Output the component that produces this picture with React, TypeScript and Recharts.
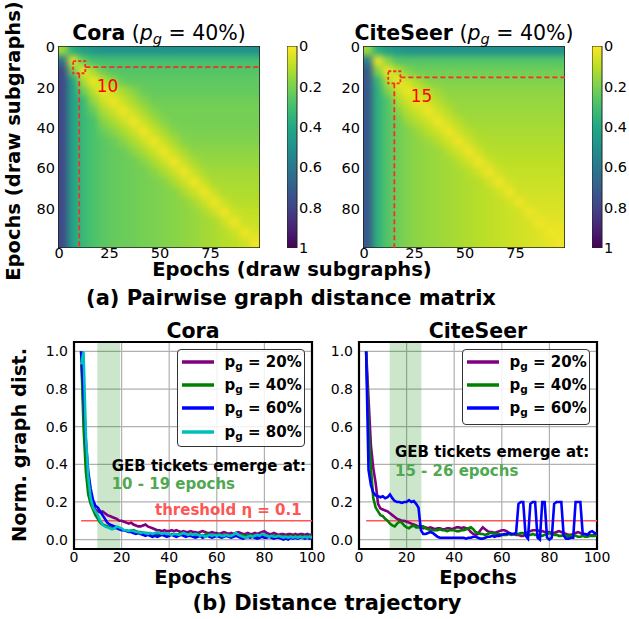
import React from 'react';
import {
  ScatterChart, Scatter, XAxis, YAxis, ZAxis, BarChart, Bar, LineChart, Line,
  CartesianGrid, ReferenceLine, ReferenceArea, Legend,
} from 'recharts';

const FONT = '"DejaVu Sans", sans-serif';

// ---------- (a) pairwise graph distance matrices (5-epoch blocks) ----------
const BLOCK_STARTS = [0, 5, 10, 15, 20, 25, 30, 35, 40, 45, 50, 55, 60, 65, 70, 75, 80, 85, 90, 95];
const BLOCK_SIZE = 5;

const CORA_MATRIX = [
  [.15, .38, .44, .47, .50, .50, .50, .50, .50, .50, .50, .50, .50, .50, .50, .50, .50, .50, .50, .50],
  [.62, .03, .23, .30, .30, .30, .30, .30, .30, .30, .30, .30, .30, .30, .30, .30, .30, .30, .30, .30],
  [.78, .23, .02, .13, .23, .27, .27, .27, .27, .27, .27, .27, .27, .27, .27, .27, .27, .27, .27, .27],
  [.78, .42, .13, .02, .10, .17, .24, .25, .25, .25, .25, .25, .25, .25, .25, .25, .25, .25, .25, .25],
  [.78, .42, .23, .10, .02, .08, .13, .18, .23, .24, .24, .24, .24, .24, .24, .24, .24, .24, .24, .24],
  [.78, .42, .33, .17, .08, .02, .08, .13, .18, .22, .22, .22, .22, .22, .22, .22, .22, .22, .22, .22],
  [.78, .42, .33, .24, .13, .08, .02, .08, .13, .18, .21, .21, .21, .21, .21, .21, .21, .21, .21, .21],
  [.78, .42, .33, .29, .18, .13, .08, .02, .08, .13, .18, .21, .21, .21, .21, .21, .21, .21, .21, .21],
  [.78, .42, .33, .29, .23, .18, .13, .08, .02, .08, .13, .18, .20, .20, .20, .20, .20, .20, .20, .20],
  [.78, .42, .33, .29, .26, .23, .18, .13, .08, .02, .08, .13, .18, .19, .19, .19, .19, .19, .19, .19],
  [.78, .42, .33, .29, .26, .24, .23, .18, .13, .08, .02, .08, .13, .17, .17, .17, .17, .17, .17, .17],
  [.78, .42, .33, .29, .26, .24, .23, .22, .18, .13, .08, .02, .08, .13, .16, .16, .16, .16, .16, .16],
  [.78, .42, .33, .29, .26, .24, .23, .22, .21, .18, .13, .08, .02, .08, .13, .14, .14, .14, .14, .14],
  [.78, .42, .33, .29, .26, .24, .23, .22, .21, .20, .18, .13, .08, .02, .08, .13, .13, .13, .13, .13],
  [.78, .42, .33, .29, .26, .24, .23, .22, .21, .20, .19, .18, .13, .08, .02, .08, .12, .12, .12, .12],
  [.78, .42, .33, .29, .26, .24, .23, .22, .21, .20, .19, .18, .17, .13, .08, .02, .08, .11, .11, .11],
  [.78, .42, .33, .29, .26, .24, .23, .22, .21, .20, .19, .18, .17, .16, .13, .08, .02, .08, .09, .09],
  [.78, .42, .33, .29, .26, .24, .23, .22, .21, .20, .19, .18, .17, .16, .14, .13, .08, .02, .08, .08],
  [.78, .42, .33, .29, .26, .24, .23, .22, .21, .20, .19, .18, .17, .16, .14, .13, .11, .08, .02, .06],
  [.78, .42, .33, .29, .26, .24, .23, .22, .21, .20, .19, .18, .17, .16, .14, .13, .11, .10, .08, .02],
];

const CITESEER_MATRIX = [
  [.15, .38, .44, .47, .50, .50, .50, .50, .50, .50, .50, .50, .50, .50, .50, .50, .50, .50, .50, .50],
  [.58, .02, .18, .27, .27, .27, .27, .27, .27, .27, .27, .27, .27, .27, .27, .27, .27, .27, .27, .27],
  [.72, .18, .02, .11, .19, .22, .22, .22, .22, .22, .22, .22, .22, .22, .22, .22, .22, .22, .22, .22],
  [.72, .33, .11, .02, .08, .13, .18, .19, .19, .19, .19, .19, .19, .19, .19, .19, .19, .19, .19, .19],
  [.72, .36, .19, .08, .02, .07, .11, .15, .17, .17, .17, .17, .17, .17, .17, .17, .17, .17, .17, .17],
  [.72, .36, .27, .13, .07, .02, .07, .11, .15, .16, .16, .16, .16, .16, .16, .16, .16, .16, .16, .16],
  [.72, .36, .27, .18, .11, .07, .02, .07, .11, .15, .15, .15, .15, .15, .15, .15, .15, .15, .15, .15],
  [.72, .36, .27, .22, .15, .11, .07, .02, .07, .11, .14, .14, .14, .14, .14, .14, .14, .14, .14, .14],
  [.72, .36, .27, .22, .19, .15, .11, .07, .02, .07, .11, .13, .13, .13, .13, .13, .13, .13, .13, .13],
  [.72, .36, .27, .22, .19, .17, .15, .11, .07, .02, .07, .11, .12, .12, .12, .12, .12, .12, .12, .12],
  [.72, .36, .27, .22, .19, .17, .16, .15, .11, .07, .02, .07, .11, .11, .11, .11, .11, .11, .11, .11],
  [.72, .36, .27, .22, .19, .17, .16, .15, .14, .11, .07, .02, .07, .10, .10, .10, .10, .10, .10, .10],
  [.72, .36, .27, .22, .19, .17, .16, .15, .14, .13, .11, .07, .02, .07, .09, .09, .09, .09, .09, .09],
  [.72, .36, .27, .22, .19, .17, .16, .15, .14, .13, .12, .11, .07, .02, .07, .08, .08, .08, .08, .08],
  [.72, .36, .27, .22, .19, .17, .16, .15, .14, .13, .12, .11, .10, .07, .02, .07, .07, .07, .07, .07],
  [.72, .36, .27, .22, .19, .17, .16, .15, .14, .13, .12, .11, .10, .09, .07, .02, .06, .06, .06, .06],
  [.72, .36, .27, .22, .19, .17, .16, .15, .14, .13, .12, .11, .10, .09, .08, .07, .02, .05, .05, .05],
  [.72, .36, .27, .22, .19, .17, .16, .15, .14, .13, .12, .11, .10, .09, .08, .07, .06, .02, .04, .04],
  [.72, .36, .27, .22, .19, .17, .16, .15, .14, .13, .12, .11, .10, .09, .08, .07, .06, .05, .02, .03],
  [.72, .36, .27, .22, .19, .17, .16, .15, .14, .13, .12, .11, .10, .09, .08, .07, .06, .05, .04, .02],
];

const HEATMAP_X_TICKS = [0, 25, 50, 75];
const HEATMAP_Y_TICKS = [0, 20, 40, 60, 80];
const HEATMAP_EDGE = [-0.5, 99.5];
const COLORBAR_TICKS = [0, 0.2, 0.4, 0.6, 0.8, 1];
const CORA_MARK = 10;
const CITESEER_MARK = 15;
const MARK_HALF = 3;

// ---------- (b) distance trajectories ----------
const EPOCHS = [
  3, 4, 5, 6, 7, 8, 9, 10, 11, 12,
  13, 14, 15, 16, 17, 18, 19, 20, 21, 22,
  23, 24, 25, 26, 27, 28, 29, 30, 31, 32,
  33, 34, 35, 36, 37, 38, 39, 40, 41, 42,
  43, 44, 45, 46, 47, 48, 49, 50, 51, 52,
  53, 54, 55, 56, 57, 58, 59, 60, 61, 62,
  63, 64, 65, 66, 67, 68, 69, 70, 71, 72,
  73, 74, 75, 76, 77, 78, 79, 80, 81, 82,
  83, 84, 85, 86, 87, 88, 89, 90, 91, 92,
  93, 94, 95, 96, 97, 98, 99, 100,
];

const CORA_P20 = [
  1.0, 0.70, 0.45, 0.30, 0.22, 0.18, 0.16, 0.15, 0.145, 0.15,
  0.14, 0.13, 0.125, 0.12, 0.115, 0.11, 0.10, 0.10, 0.095, 0.09,
  0.085, 0.09, 0.08, 0.075, 0.07, 0.07, 0.075, 0.08, 0.07, 0.065,
  0.06, 0.055, 0.05, 0.05, 0.045, 0.05, 0.045, 0.045, 0.05, 0.045,
  0.05, 0.045, 0.04, 0.045, 0.04, 0.04, 0.045, 0.04, 0.04, 0.035,
  0.04, 0.045, 0.04, 0.035, 0.035, 0.04, 0.035, 0.035, 0.03, 0.035,
  0.04, 0.035, 0.03, 0.035, 0.03, 0.035, 0.04, 0.035, 0.03, 0.03,
  0.035, 0.03, 0.03, 0.035, 0.03, 0.035, 0.04, 0.045, 0.035, 0.03,
  0.03, 0.035, 0.03, 0.025, 0.03, 0.03, 0.025, 0.03, 0.03, 0.025,
  0.03, 0.025, 0.03, 0.03, 0.025, 0.03, 0.025, 0.025,
];
const CORA_P40 = [
  1.0, 0.60, 0.36, 0.24, 0.19, 0.16, 0.13, 0.11, 0.09, 0.08,
  0.075, 0.07, 0.065, 0.06, 0.06, 0.065, 0.06, 0.055, 0.05, 0.05,
  0.045, 0.045, 0.05, 0.045, 0.04, 0.04, 0.035, 0.035, 0.035, 0.03,
  0.03, 0.025, 0.03, 0.03, 0.025, 0.03, 0.03, 0.025, 0.03, 0.03,
  0.025, 0.03, 0.035, 0.03, 0.025, 0.025, 0.03, 0.025, 0.025, 0.03,
  0.025, 0.02, 0.025, 0.03, 0.025, 0.025, 0.02, 0.025, 0.025, 0.02,
  0.025, 0.02, 0.025, 0.02, 0.02, 0.025, 0.02, 0.02, 0.025, 0.02,
  0.02, 0.025, 0.02, 0.02, 0.015, 0.02, 0.02, 0.025, 0.02, 0.02,
  0.015, 0.02, 0.02, 0.015, 0.02, 0.015, 0.015, 0.02, 0.015, 0.015,
  0.02, 0.015, 0.015, 0.02, 0.015, 0.015, 0.02, 0.015,
];
const CORA_P60 = [
  1.0, 0.78, 0.52, 0.36, 0.27, 0.21, 0.18, 0.17, 0.15, 0.13,
  0.11, 0.09, 0.08, 0.075, 0.07, 0.06, 0.055, 0.05, 0.05, 0.045,
  0.04, 0.04, 0.035, 0.03, 0.035, 0.03, 0.025, 0.02, 0.025, 0.02,
  0.015, 0.02, 0.015, 0.02, 0.025, 0.02, 0.015, 0.02, 0.025, 0.02,
  0.015, 0.02, 0.025, 0.02, 0.015, 0.02, 0.02, 0.015, 0.01, 0.015,
  0.02, 0.01, 0.015, 0.02, 0.015, 0.01, 0.015, 0.02, 0.015, 0.01,
  0.015, 0.02, 0.015, 0.01, 0.015, 0.02, 0.015, 0.01, 0.005, 0.01,
  0.015, 0.01, 0.015, 0.01, 0.005, 0.01, 0.015, 0.01, 0.01, 0.015,
  0.01, 0.005, 0.01, 0.01, 0.005, 0.0, 0.005, 0.0, 0.01, 0.005,
  0.01, 0.005, 0.01, 0.01, 0.005, 0.01, 0.005, 0.01,
];
const CORA_P80 = [
  0.93, 1.0, 0.55, 0.33, 0.22, 0.17, 0.15, 0.13, 0.10, 0.08,
  0.07, 0.065, 0.06, 0.055, 0.06, 0.07, 0.065, 0.06, 0.05, 0.05,
  0.045, 0.05, 0.045, 0.04, 0.04, 0.035, 0.04, 0.035, 0.03, 0.035,
  0.03, 0.035, 0.04, 0.035, 0.03, 0.035, 0.03, 0.03, 0.025, 0.03,
  0.03, 0.025, 0.03, 0.035, 0.03, 0.025, 0.03, 0.025, 0.03, 0.025,
  0.02, 0.025, 0.015, 0.02, 0.025, 0.02, 0.025, 0.02, 0.025, 0.02,
  0.02, 0.025, 0.02, 0.02, 0.025, 0.035, 0.025, 0.02, 0.015, 0.01,
  0.015, 0.02, 0.015, 0.02, 0.025, 0.02, 0.03, 0.025, 0.02, 0.015,
  0.02, 0.015, 0.015, 0.02, 0.015, 0.01, 0.015, 0.01, 0.015, 0.01,
  0.015, 0.01, 0.015, 0.01, 0.015, 0.01, 0.015, 0.01,
];

const CITESEER_P20 = [
  1.0, 0.75, 0.50, 0.38, 0.30, 0.19, 0.165, 0.16, 0.155, 0.15,
  0.14, 0.13, 0.12, 0.11, 0.105, 0.10, 0.10, 0.095, 0.09, 0.085,
  0.08, 0.075, 0.07, 0.065, 0.06, 0.065, 0.06, 0.065, 0.06, 0.055,
  0.06, 0.06, 0.055, 0.055, 0.06, 0.06, 0.055, 0.06, 0.065, 0.065,
  0.06, 0.065, 0.06, 0.055, 0.04, 0.03, 0.025, 0.03, 0.05, 0.065,
  0.055, 0.045, 0.04, 0.04, 0.035, 0.04, 0.045, 0.05, 0.05, 0.045,
  0.035, 0.03, 0.03, 0.025, 0.025, 0.02, 0.02, 0.03, 0.04, 0.045,
  0.05, 0.05, 0.05, 0.045, 0.045, 0.04, 0.04, 0.04, 0.035, 0.035,
  0.04, 0.045, 0.04, 0.035, 0.03, 0.025, 0.025, 0.03, 0.035, 0.04,
  0.035, 0.03, 0.03, 0.025, 0.025, 0.02, 0.025, 0.03,
];
const CITESEER_P40 = [
  1.0, 0.60, 0.38, 0.22, 0.17, 0.15, 0.13, 0.125, 0.11, 0.10,
  0.085, 0.075, 0.07, 0.085, 0.095, 0.09, 0.075, 0.065, 0.06, 0.07,
  0.075, 0.065, 0.065, 0.07, 0.07, 0.06, 0.055, 0.05, 0.05, 0.05,
  0.05, 0.055, 0.05, 0.05, 0.045, 0.05, 0.05, 0.05, 0.045, 0.045,
  0.05, 0.05, 0.055, 0.06, 0.065, 0.055, 0.04, 0.035, 0.03, 0.03,
  0.025, 0.03, 0.035, 0.035, 0.03, 0.03, 0.03, 0.025, 0.025, 0.025,
  0.03, 0.025, 0.03, 0.03, 0.03, 0.035, 0.035, 0.03, 0.025, 0.025,
  0.03, 0.025, 0.025, 0.02, 0.02, 0.025, 0.03, 0.035, 0.03, 0.025,
  0.025, 0.02, 0.02, 0.025, 0.02, 0.02, 0.02, 0.025, 0.02, 0.015,
  0.015, 0.02, 0.015, 0.015, 0.02, 0.02, 0.02, 0.025,
];
const CITESEER_P60 = [
  1.0, 0.37, 0.29, 0.25, 0.235, 0.23, 0.225, 0.23, 0.22, 0.225,
  0.24, 0.22, 0.205, 0.20, 0.20, 0.195, 0.20, 0.20, 0.21, 0.20,
  0.205, 0.19, 0.17, 0.05, 0.03, 0.03, 0.035, 0.04, 0.035, 0.025,
  0.015, 0.01, 0.01, 0.01, 0.01, 0.01, 0.01, 0.01, 0.01, 0.01,
  0.01, 0.01, 0.005, 0.01, 0.01, 0.015, 0.015, 0.01, 0.005, 0.005,
  0.01, 0.015, 0.015, 0.02, 0.015, 0.02, 0.02, 0.025, 0.03, 0.03,
  0.035, 0.03, 0.03, 0.035, 0.19, 0.20, 0.20, 0.02, 0.005, 0.19,
  0.20, 0.20, 0.01, 0.0, 0.20, 0.20, 0.01, 0.0, 0.01, 0.19,
  0.20, 0.20, 0.20, 0.02, 0.005, 0.005, 0.01, 0.01, 0.20, 0.20,
  0.20, 0.03, 0.03, 0.025, 0.04, 0.045, 0.035, 0.03,
];

const TRAJ_X_TICKS = [0, 20, 40, 60, 80, 100];
const TRAJ_Y_TICKS = [0, 0.2, 0.4, 0.6, 0.8, 1.0];
const CORA_SPAN = [9.8, 19.4];
const CITESEER_SPAN = [12.9, 26.2];
const THRESHOLD = 0.1;
const THRESHOLD_START = 3;
const PG_LABELS = ['20%', '40%', '60%', '80%'];
const SERIES_COLORS = ['#800080', '#008000', '#0000ff', '#00bfbf'];

// ---------- styling ----------
const VIRIDIS = ['#440154', '#482475', '#414487', '#355f8d', '#2a788e', '#21918c', '#22a884', '#44bf70', '#7ad151', '#bddf26', '#fde725'];
const DASH_RED = '#f0302a';

function hexToRgb(h: string) {
  return [parseInt(h.slice(1, 3), 16), parseInt(h.slice(3, 5), 16), parseInt(h.slice(5, 7), 16)];
}
function distColor(d: number) {
  const t = Math.min(1, Math.max(0, 1 - d)) * 10;
  const i = Math.min(9, Math.floor(t));
  const f = t - i;
  const a = hexToRgb(VIRIDIS[i]);
  const b = hexToRgb(VIRIDIS[i + 1]);
  const c = a.map((v, k) => Math.round(v + (b[k] - v) * f));
  return `rgb(${c[0]},${c[1]},${c[2]})`;
}

const HM = 202; // heatmap plot size (px)
const EXT = 14; // outward padding of edge cells so the smoothing filter does not fade the borders
const tickStyle = (size: number) => ({ fontSize: size, fill: '#000', fontFamily: FONT });
const NoDot = () => <g />;

function Heatmap({ matrix, mark, left, top, id }: any) {
  const n = matrix.length;
  const cells: any[] = [];
  matrix.forEach((row: number[], r: number) =>
    row.forEach((v: number, c: number) =>
      cells.push({ x: BLOCK_STARTS[c] + (BLOCK_SIZE - 1) / 2, y: BLOCK_STARTS[r] + (BLOCK_SIZE - 1) / 2, v, r, c })));
  const cw = (HM * BLOCK_SIZE) / 100;
  const shape = (p: any) => {
    const { r, c, v } = p.payload;
    const x0 = p.cx - cw / 2 - (c === 0 ? EXT : 0.4);
    const x1 = p.cx + cw / 2 + (c === n - 1 ? EXT : 0.4);
    const y0 = p.cy - cw / 2 - (r === 0 ? EXT : 0.4);
    const y1 = p.cy + cw / 2 + (r === n - 1 ? EXT : 0.4);
    return <rect x={x0} y={y0} width={x1 - x0} height={y1 - y0} fill={distColor(v)} />;
  };
  const [e0, e1] = HEATMAP_EDGE;
  const lo = mark - MARK_HALF;
  const hi = mark + MARK_HALF;
  const square = [{ x: lo, y: lo }, { x: hi, y: lo }, { x: hi, y: hi }, { x: lo, y: hi }, { x: lo, y: lo }];
  const hLine = [{ x: hi, y: mark }, { x: e1, y: mark }];
  const vLine = [{ x: mark, y: hi }, { x: mark, y: e1 }];
  const frame = [{ x: e0, y: e0 }, { x: e1, y: e0 }, { x: e1, y: e1 }, { x: e0, y: e1 }, { x: e0, y: e0 }];
  return (
    <div style={{ position: 'absolute', left: left - 40, top: top - 10 }}>
      <ScatterChart width={40 + HM + 10} height={10 + HM + 30} margin={{ top: 10, right: 10, bottom: 0, left: 0 }}>
        <defs>
          <filter id={id} x="-10%" y="-10%" width="120%" height="120%" colorInterpolationFilters="sRGB">
            <feGaussianBlur stdDeviation={3.4} />
          </filter>
        </defs>
        <XAxis type="number" dataKey="x" domain={HEATMAP_EDGE} ticks={HEATMAP_X_TICKS} interval={0}
          allowDataOverflow tickLine={false} axisLine={false} height={30} tickSize={0} tickMargin={0}
          tick={tickStyle(14.5)} />
        <YAxis type="number" dataKey="y" domain={HEATMAP_EDGE} reversed ticks={HEATMAP_Y_TICKS} interval={0}
          allowDataOverflow tickLine={false} axisLine={false} width={40} tickSize={1} tickMargin={2}
          tick={tickStyle(14.5)} />
        <ZAxis range={[20, 20]} />
        <Scatter data={cells} shape={shape} className={`hm-${id}`} isAnimationActive={false} />
        <Scatter data={frame} shape={NoDot} line={{ stroke: '#222', strokeWidth: 1.6 }} lineType="joint"
          isAnimationActive={false} />
        <Scatter data={square} shape={NoDot} line={{ stroke: DASH_RED, strokeWidth: 1.8, strokeDasharray: '3 2' }}
          lineType="joint" isAnimationActive={false} />
        <Scatter data={hLine} shape={NoDot} line={{ stroke: DASH_RED, strokeWidth: 1.8, strokeDasharray: '5 3' }}
          lineType="joint" isAnimationActive={false} />
        <Scatter data={vLine} shape={NoDot} line={{ stroke: DASH_RED, strokeWidth: 1.8, strokeDasharray: '5 3' }}
          lineType="joint" isAnimationActive={false} />
      </ScatterChart>
    </div>
  );
}

function Colorbar({ left, top, id }: any) {
  return (
    <div style={{ position: 'absolute', left, top: top - 10 }}>
      <BarChart width={10 + 40} height={10 + HM + 10} data={[{ name: 'cb', v: 1 }]}
        margin={{ top: 10, right: 0, bottom: 10, left: 0 }} barCategoryGap={0}>
        <defs>
          <linearGradient id={id} x1="0" y1="0" x2="0" y2="1">
            {VIRIDIS.map((c, i) => (
              <stop key={i} offset={`${i * 10}%`} stopColor={VIRIDIS[10 - i]} />
            ))}
          </linearGradient>
        </defs>
        <XAxis dataKey="name" hide />
        <YAxis orientation="right" type="number" domain={[0, 1]} reversed ticks={COLORBAR_TICKS} interval={0}
          allowDataOverflow tickLine={false} axisLine={false} width={40} tickSize={1} tickMargin={1}
          tick={tickStyle(14.5)} tickFormatter={(v: number) => (v === 0 ? '0' : v === 1 ? '1' : v.toFixed(1))} />
        <Bar dataKey="v" fill={`url(#${id})`} stroke="#222" strokeWidth={1} isAnimationActive={false} />
      </BarChart>
    </div>
  );
}

const TW = 238;
const TH = 207;

function LegendBox({ payload, height }: any) {
  return (
    <div style={{
      width: 128, height, boxSizing: 'border-box', border: '1.4px solid #333', borderRadius: 4,
      background: 'rgba(255,255,255,0.85)', paddingTop: 0, fontFamily: FONT,
    }}>
      {(payload || []).map((p: any, i: number) => (
        <div key={i} style={{ display: 'flex', alignItems: 'center', height: 23.4 }}>
          <svg width={32} height={6} style={{ marginLeft: 4 }}>
            <line x1={0} y1={3} x2={32} y2={3} stroke={p.color} strokeWidth={3.5} />
          </svg>
          <span style={{ marginLeft: 10.5, fontWeight: 'bold', fontSize: 15, color: '#000', whiteSpace: 'nowrap' }}>
            p<sub style={{ fontSize: 10.5, verticalAlign: '-3px', lineHeight: 0 }}>g</sub> = {p.value}
          </span>
        </div>
      ))}
    </div>
  );
}

function Trajectory({ left, top, epochs, series, span, legendHeight }: any) {
  const rows = epochs.map((e: number, i: number) => {
    const o: any = { epoch: e };
    series.forEach((s: number[], k: number) => { o['s' + k] = s[i]; });
    return o;
  });
  return (
    <div style={{ position: 'absolute', left: left - 40, top: top - 10 }}>
      <LineChart width={40 + TW + 22} height={10 + TH + 30} data={rows} margin={{ top: 10, right: 22, bottom: 0, left: 0 }}>
        <CartesianGrid stroke="#b0b0b0" strokeWidth={1.2} />
        <XAxis type="number" dataKey="epoch" domain={[0, 100]} ticks={TRAJ_X_TICKS} interval={0}
          allowDataOverflow tickLine={false} axisLine={false} height={30} tickSize={1} tickMargin={2}
          tick={tickStyle(14)} />
        <YAxis type="number" domain={[-0.05, 1.05]} ticks={TRAJ_Y_TICKS} interval={0}
          allowDataOverflow tickLine={false} axisLine={false} width={40} tickSize={4} tickMargin={2}
          tick={tickStyle(14)} tickFormatter={(v: number) => v.toFixed(1)} />
        <ReferenceArea x1={span[0]} x2={span[1]} y1={-0.05} y2={1.05} fill="#008000" fillOpacity={0.2} stroke="none" />
        <ReferenceLine segment={[{ x: THRESHOLD_START, y: THRESHOLD }, { x: 100, y: THRESHOLD }]}
          stroke="#ff5555" strokeWidth={1.6} />
        {series.map((_: any, k: number) => (
          <Line key={k} type="linear" dataKey={'s' + k} name={PG_LABELS[k]} stroke={SERIES_COLORS[k]}
            strokeWidth={2.6} dot={false} isAnimationActive={false} />
        ))}
        <ReferenceArea x1={0} x2={100} y1={-0.05} y2={1.05} fill="none" fillOpacity={0} stroke="#000" strokeWidth={2.2} />
        <Legend layout="vertical" align="center" verticalAlign="middle"
          wrapperStyle={{ left: 143, top: 17, width: 128 }}
          content={(props: any) => <LegendBox payload={props.payload} height={legendHeight} />} />
      </LineChart>
    </div>
  );
}

function Title({ x, y, name }: any) {
  return (
    <text x={x} y={y} textAnchor="middle" fontSize={20.5} fill="#000">
      <tspan fontWeight="bold">{name}</tspan>
      <tspan> (</tspan>
      <tspan fontStyle="italic">p</tspan>
      <tspan fontStyle="italic" fontSize={14.5} dy={4}>g</tspan>
      <tspan dy={-4}> = 40%)</tspan>
    </text>
  );
}

export default function App() {
  return (
    <div style={{ position: 'absolute', left: 0, top: 0, width: 629, height: 619, background: '#fff', fontFamily: FONT }}>
      <style>{'.hm-hmCora{filter:url(#hmCora)} .hm-hmCiteSeer{filter:url(#hmCiteSeer)}'}</style>
      <Heatmap matrix={CORA_MATRIX} mark={CORA_MARK} left={58} top={46} id="hmCora" />
      <Colorbar left={287} top={46} id="cbCora" />
      <Heatmap matrix={CITESEER_MATRIX} mark={CITESEER_MARK} left={363} top={46} id="hmCiteSeer" />
      <Colorbar left={592} top={46} id="cbCiteSeer" />

      <Trajectory left={74} top={342} epochs={EPOCHS}
        series={[CORA_P20, CORA_P40, CORA_P60, CORA_P80]} span={CORA_SPAN} legendHeight={98} />
      <Trajectory left={359} top={342} epochs={EPOCHS}
        series={[CITESEER_P20, CITESEER_P40, CITESEER_P60]} span={CITESEER_SPAN} legendHeight={76} />

      <svg width={629} height={619} style={{ position: 'absolute', left: 0, top: 0, pointerEvents: 'none' }}
        fontFamily={FONT}>
        <Title x={159} y={40} name="Cora" />
        <Title x={464} y={40} name="CiteSeer" />
        <text x={96.7} y={91.7} fontSize={17} fill="#ff0000">{CORA_MARK}</text>
        <text x={410.7} y={101.7} fontSize={17} fill="#ff0000">{CITESEER_MARK}</text>

        <text transform="rotate(-90, 20, 141)" x={20} y={141} textAnchor="middle" fontSize={19.5} fontWeight="bold">
          Epochs (draw subgraphs)
        </text>
        <text x={292} y={276} textAnchor="middle" fontSize={19.5} fontWeight="bold">Epochs (draw subgraphs)</text>
        <text x={291} y={305} textAnchor="middle" fontSize={21} fontWeight="bold">(a) Pairwise graph distance matrix</text>

        <text x={193} y={338} textAnchor="middle" fontSize={20.5} fontWeight="bold">Cora</text>
        <text x={478} y={338} textAnchor="middle" fontSize={20.5} fontWeight="bold">CiteSeer</text>
        <text transform="rotate(-90, 26, 445)" x={26} y={445} textAnchor="middle" fontSize={19.5} fontWeight="bold">
          Norm. graph dist.
        </text>
        <text x={193} y={584} textAnchor="middle" fontSize={19.5} fontWeight="bold">Epochs</text>
        <text x={478} y={584} textAnchor="middle" fontSize={19.5} fontWeight="bold">Epochs</text>
        <text x={327} y={610} textAnchor="middle" fontSize={21} fontWeight="bold">(b) Distance trajectory</text>

        <text x={111.7} y={471} fontSize={15} fontWeight="bold">GEB tickets emerge at:</text>
        <text x={111.7} y={489.3} fontSize={15} fontWeight="bold" fill="#50a850">10 - 19 epochs</text>
        <text x={155} y={514.7} fontSize={15} fontWeight="bold" fill="#ff5555">threshold η = 0.1</text>
        <text x={395} y={457} fontSize={15} fontWeight="bold">GEB tickets emerge at:</text>
        <text x={395} y={476} fontSize={15} fontWeight="bold" fill="#50a850">15 - 26 epochs</text>
      </svg>
    </div>
  );
}
